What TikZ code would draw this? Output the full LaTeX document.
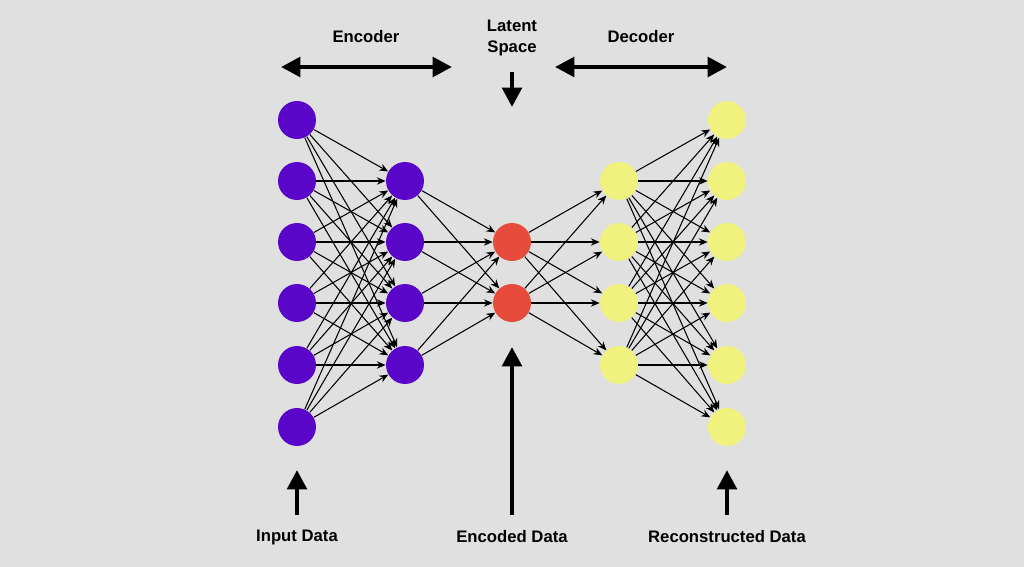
\documentclass[tikz,border=0pt]{standalone}
\usepackage{fontspec}
\setmainfont{Liberation Sans}
\usetikzlibrary{arrows.meta}
\definecolor{bgGray}{HTML}{E0E0E0}
\definecolor{inPurple}{HTML}{5A06C8}
\definecolor{latRed}{HTML}{E64B3B}
\definecolor{outYellow}{HTML}{F0F27E}
\begin{document}
\begin{tikzpicture}[x=0.02cm,y=-0.02cm,
  neuron/.style={circle,minimum size=0.76cm,inner sep=0pt},
  link/.style={-{Stealth[length=5pt,width=4.2pt]},line width=0.6pt},
  bigarrow/.style={line width=2.5pt,-{Triangle[length=11pt,width=11pt]}},
  lab/.style={font=\bfseries\fontsize{9.5}{11.5}\selectfont,align=center}]
\fill[bgGray] (0,0) rectangle (1024,567);
\foreach\i/\y in {1/120,2/181,3/242,4/303,5/365,6/427}
{
\node[neuron,fill=inPurple] (in\i) at (297,\y) {};
\node[neuron,fill=outYellow] (out\i) at (727,\y) {};
}
\foreach\i/\y in {1/181,2/242,3/303,4/365}
{
\node[neuron,fill=inPurple] (enc\i) at (405,\y) {};
\node[neuron,fill=outYellow] (dec\i) at (619,\y) {};
}
\node[neuron,fill=latRed] (lat1) at (512,242) {};
\node[neuron,fill=latRed] (lat2) at (512,303) {};
% connections
\foreach\i in {1,...,6}
  \foreach\j in {1,...,4}
  {
  \draw[link] (in\i) -- (enc\j);
  \draw[link] (dec\j) -- (out\i);
  }
\foreach\i in {1,...,4}
  \foreach\j in {1,2}
  {
  \draw[link] (enc\i) -- (lat\j);
  \draw[link] (lat\j) -- (dec\i);
  }
% top labels
\node[lab] (enclab) at (366,37) {Encoder};
\node[lab] (latlab) at (512,38) {Latent\\Space};
\node[lab] (declab) at (641,37) {Decoder};
\coordinate (encL) at (281,67);
\coordinate (encR) at (452,67);
\coordinate (decL) at (555,67);
\coordinate (decR) at (727,67);
\coordinate (latT) at (512,72);
\coordinate (latB) at (512,107);
\draw[bigarrow,{Triangle[length=11pt,width=11pt]}-{Triangle[length=11pt,width=11pt]}] (encL) -- (encR);
\draw[bigarrow,{Triangle[length=11pt,width=11pt]}-{Triangle[length=11pt,width=11pt]}] (decL) -- (decR);
\draw[bigarrow] (latT) -- (latB);
% bottom labels
\node[lab] (inlab) at (297,537) {Input Data};
\node[lab] (codelab) at (512,537) {Encoded Data};
\node[lab] (outlab) at (727,537) {Reconstructed Data};
\coordinate (inB) at (297,515);
\coordinate (inT) at (297,470);
\coordinate (codeB) at (512,515);
\coordinate (codeT) at (512,347);
\coordinate (outB) at (727,515);
\coordinate (outT) at (727,470);
\draw[bigarrow] (inB) -- (inT);
\draw[bigarrow] (codeB) -- (codeT);
\draw[bigarrow] (outB) -- (outT);
\end{tikzpicture}
\end{document}
